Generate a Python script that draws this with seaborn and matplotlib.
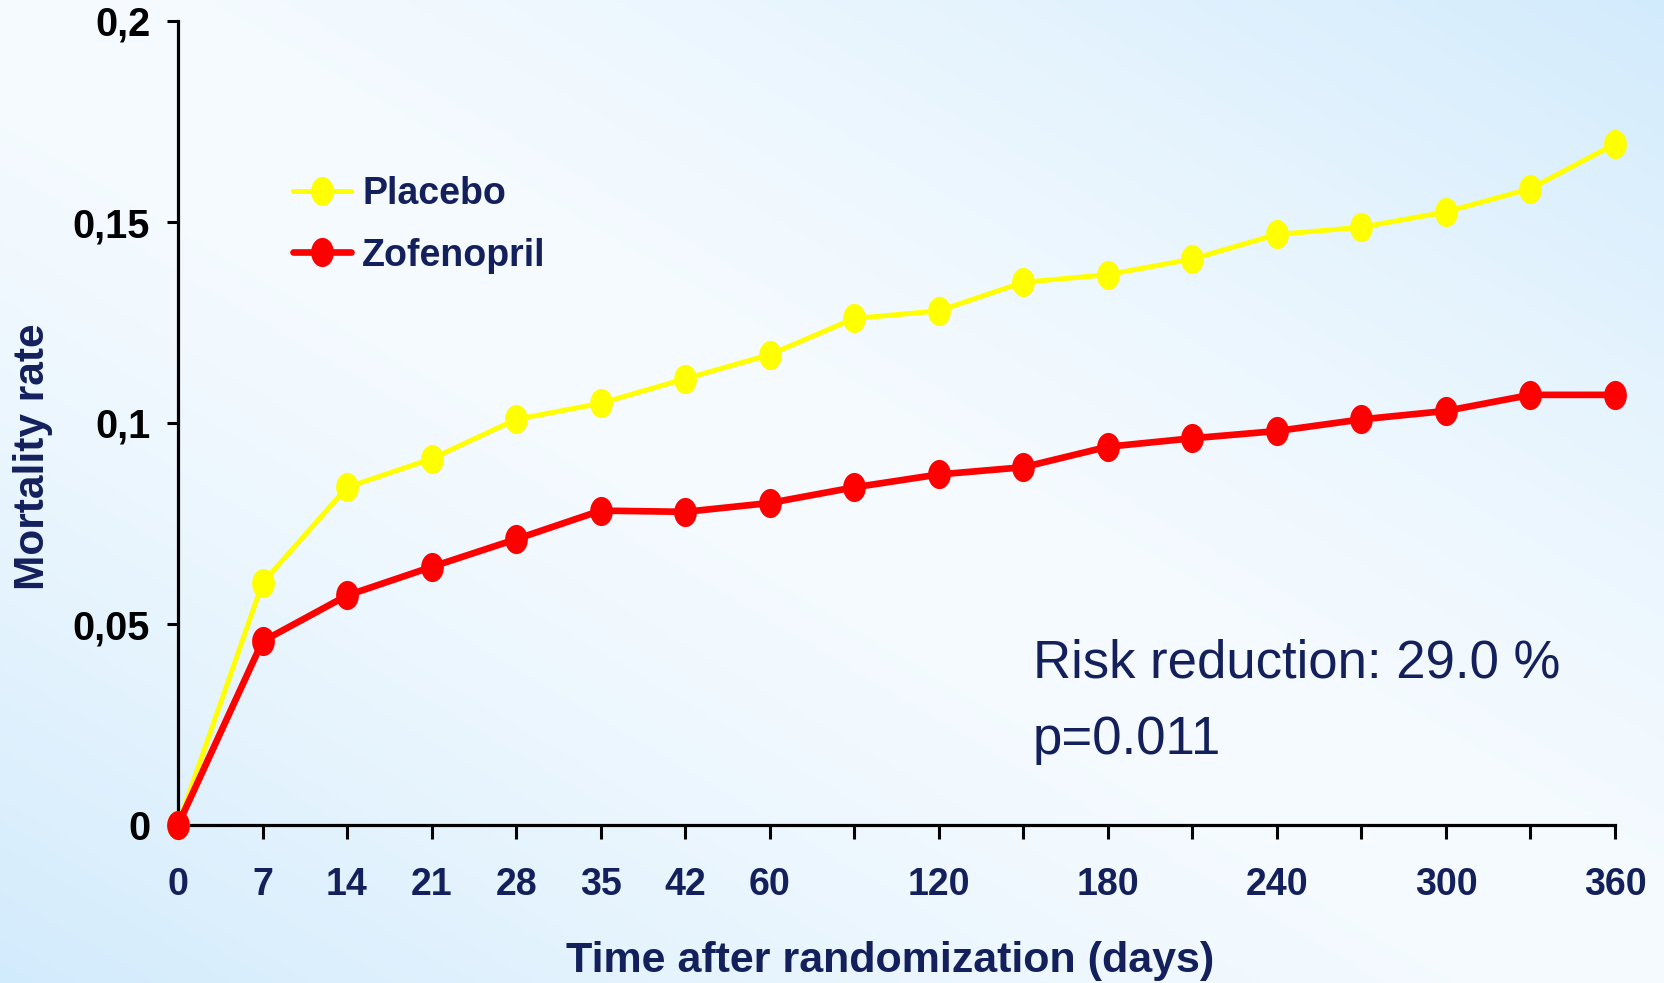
import numpy as np
import pandas as pd
import matplotlib
matplotlib.use("Agg")
import matplotlib.pyplot as plt
import seaborn as sns
from matplotlib.path import Path
from matplotlib import font_manager as fm

# ---------------- data ----------------
days = [0, 7, 14, 21, 28, 35, 42, 60, 90, 120, 150, 180, 210, 240, 270, 300, 330, 360]
day_labels = ['0', '7', '14', '21', '28', '35', '42', '60', '', '120', '', '180', '', '240', '', '300', '', '360']
placebo = [0.0, 0.0602, 0.0840, 0.0911, 0.1009, 0.1049, 0.1110, 0.1170, 0.1260, 0.1279,
           0.1350, 0.1369, 0.1408, 0.1469, 0.1487, 0.1525, 0.1583, 0.1694]
zofenopril = [0.0, 0.0457, 0.0571, 0.0642, 0.0711, 0.0782, 0.0779, 0.0801, 0.0840, 0.0872,
              0.0890, 0.0941, 0.0962, 0.0980, 0.1009, 0.1030, 0.1070, 0.1070]
y_ticks = [0, 0.05, 0.1, 0.15, 0.2]
y_tick_labels = ['0', '0,05', '0,1', '0,15', '0,2']
series_names = ['Placebo', 'Zofenopril']

W, H = 1665, 983
NAVY = '#13205C'

sns.set_theme(style='white')
names = {f.name for f in fm.fontManager.ttflist}
NARROW = 'Liberation Sans Narrow' if 'Liberation Sans Narrow' in names else 'Liberation Sans'
plt.rcParams['font.family'] = ['Liberation Sans', 'DejaVu Sans']

fig = plt.figure(figsize=(W / 100, H / 100), dpi=100)

# background gradient: light along the top-left / bottom-right diagonal, blue towards the other corners
bg = fig.add_axes([0, 0, 1, 1], zorder=-10)
yy, xx = np.mgrid[0:1:300j, 0:1:500j]
d = np.clip(np.abs(xx + yy - 1.0), 0, 1) ** 1.4
c0 = np.array([246, 251, 255]) / 255.0
c1 = np.array([210, 235, 252]) / 255.0
img = c0[None, None, :] * (1 - d[..., None]) + c1[None, None, :] * d[..., None]
bg.imshow(img, aspect='auto', extent=[0, 1, 0, 1], origin='lower')
bg.axis('off')

ax = fig.add_axes([178 / W, 1 - 825 / H, (1615 - 178) / W, (825 - 21) / H])
ax.patch.set_alpha(0)

pos = np.arange(len(days))
df = pd.DataFrame({'pos': np.concatenate([pos, pos]),
                   'rate': placebo + zofenopril,
                   'group': [series_names[0]] * len(days) + [series_names[1]] * len(days)})

circ = Path.unit_circle()
ell = Path(circ.vertices * np.array([0.78, 1.0]), circ.codes)

styles = {'Placebo': dict(color='#FFFF00', lw=3.6), 'Zofenopril': dict(color='#FF0000', lw=4.8)}
for name in series_names:
    sub = df[df['group'] == name]
    sns.lineplot(data=sub, x='pos', y='rate', ax=ax, label=name,
                 color=styles[name]['color'], linewidth=styles[name]['lw'],
                 marker=ell, markersize=21, markeredgewidth=0,
                 markerfacecolor=styles[name]['color'], clip_on=False, zorder=3)

ax.set_xlim(0, len(days) - 1)
ax.set_ylim(0, 0.2)
ax.set_xticks(pos)
ax.set_xticklabels(day_labels)
ax.set_yticks(y_ticks)
ax.set_yticklabels(y_tick_labels)

for s in ['top', 'right']:
    ax.spines[s].set_visible(False)
for s in ['left', 'bottom']:
    ax.spines[s].set_color('black')
    ax.spines[s].set_linewidth(2.3)

ax.tick_params(axis='x', bottom=True, direction='out', length=10, width=2.2, color='black', pad=20)
ax.tick_params(axis='y', left=True, direction='out', length=8, width=2.2, color='black', pad=12)
for t in ax.get_xticklabels():
    t.set_fontfamily(NARROW)
    t.set_fontweight('bold')
    t.set_fontsize(27)
    t.set_color(NAVY)
for t in ax.get_yticklabels():
    t.set_fontfamily(NARROW)
    t.set_fontweight('bold')
    t.set_fontsize(28.5)
    t.set_color('black')

ax.set_xlabel('Time after randomization (days)', fontsize=31, fontweight='bold',
              color=NAVY, family=NARROW)
ax.xaxis.set_label_coords((890 - 178) / (1615 - 178), (825 - 961) / (825 - 21))
ax.xaxis.label.set_va('center')
ax.set_ylabel('Mortality rate', fontsize=30.5, fontweight='bold', color=NAVY)
ax.yaxis.set_label_coords((33 - 178) / (1615 - 178), (825 - 457) / (825 - 21))
ax.yaxis.label.set_va('center')

leg = ax.legend(loc='upper left', bbox_to_anchor=(293 / W, 1 - 176 / H),
                bbox_transform=fig.transFigure, frameon=False, fontsize=27,
                handlelength=1.55, handletextpad=0.3, labelspacing=0.68,
                borderaxespad=0, borderpad=0)
for t in leg.get_texts():
    t.set_color(NAVY)
    t.set_fontweight('bold')

fig.text(1033 / W, 1 - 677 / H, 'Risk reduction: 29.0 %', fontsize=38, color=NAVY,
         ha='left', va='baseline')
fig.text(1033 / W, 1 - 754 / H, 'p=0.011', fontsize=38, color=NAVY,
         ha='left', va='baseline')

fig.savefig('out.png', dpi=100)
